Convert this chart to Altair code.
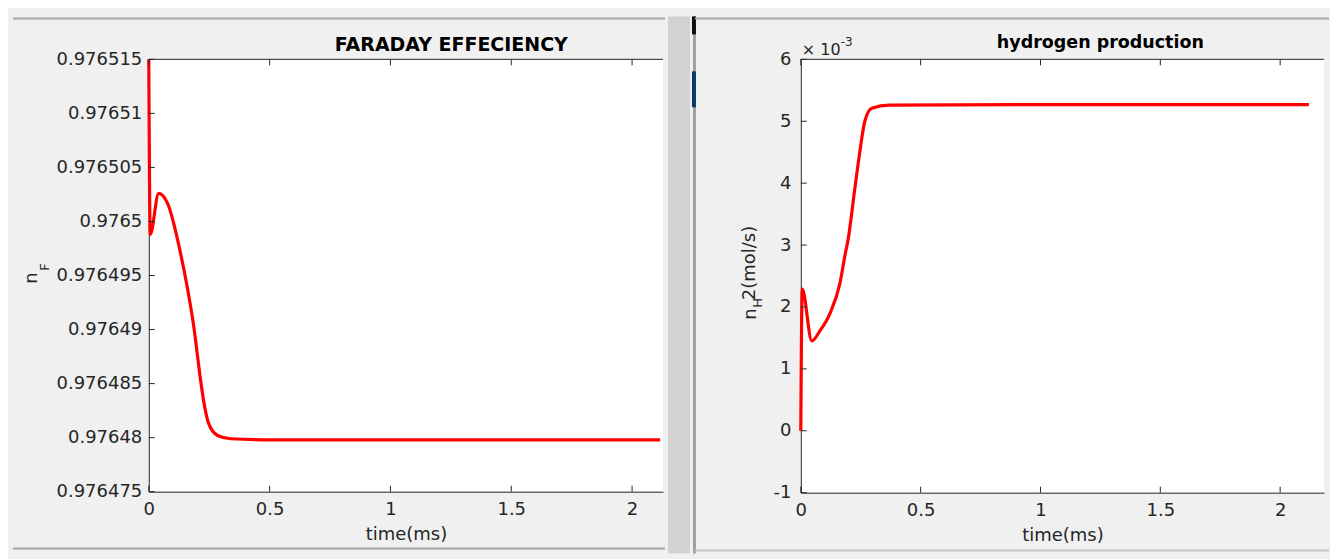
import altair as alt
import pandas as pd

# ---------------- data ----------------
fe_time = [0, 0.006, 0.041, 0.079, 0.132, 0.161, 0.186, 0.215, 0.227, 0.248,
           0.285, 0.339, 0.5, 1.0, 1.5, 2.116]
fe_value = [0.976515, 0.9764988, 0.9765026, 0.9765016, 0.9764970, 0.9764937,
            0.9764903, 0.9764852, 0.9764834, 0.9764813, 0.9764802, 0.9764799,
            0.9764798, 0.9764798, 0.9764798, 0.9764798]

h2_time = [0, 0.006, 0.046, 0.079, 0.121, 0.1625, 0.1875, 0.196, 0.225, 0.246,
           0.267, 0.296, 0.37, 1.0, 1.5, 2.12]
h2_value = [0, 2.29, 1.45, 1.61, 1.89, 2.37, 2.9, 3.06, 3.9, 4.5,
            5.0, 5.21, 5.26, 5.27, 5.27, 5.27]

x_ticks = [0, 0.5, 1, 1.5, 2]
fe_ticks = [0.976475, 0.97648, 0.976485, 0.97649, 0.976495, 0.9765,
            0.976505, 0.97651, 0.976515]
h2_ticks = [-1, 0, 1, 2, 3, 4, 5, 6]

fe_title = "FARADAY EFFECIENCY"
h2_title = "hydrogen production"
x_title = "time(ms)"

FONT = "DejaVu Sans"
AX = "#262626"
RED = "#ff0000"


def one(text):
    return alt.Chart(pd.DataFrame({"s": [text]}))


def txt(text, x, y, size, angle=0, align="center", baseline="middle",
        weight="normal", color=AX):
    kw = dict(align=align, baseline=baseline, font=FONT, fontSize=size,
              fontWeight=weight, color=color)
    if angle:
        kw["angle"] = angle
    return one(text).mark_text(**kw).encode(text="s:N", x=alt.value(x), y=alt.value(y))


def hrule(x1, x2, y, color, width):
    return one("r").mark_rule(color=color, strokeWidth=width).encode(
        x=alt.value(x1), x2=alt.value(x2), y=alt.value(y))


def box(x1, x2, y1, y2, color):
    return one("r").mark_rect(color=color).encode(
        x=alt.value(x1), x2=alt.value(x2), y=alt.value(y1), y2=alt.value(y2))


def panel(times, values, t_max, ydom, yticks, ylabel_expr, w, h, extra):
    df = pd.DataFrame({"t": times, "v": values})
    xs = alt.Scale(domain=[0, t_max], nice=False, zero=False)
    ys = alt.Scale(domain=ydom, nice=False, zero=False)

    line = alt.Chart(df).mark_line(color=RED, strokeWidth=3.2, interpolate="monotone",
                                   clip=False).encode(
        x=alt.X("t:Q", scale=xs,
                axis=alt.Axis(values=x_ticks, format="~g", title=x_title,
                              labelPadding=9, titlePadding=7)),
        y=alt.Y("v:Q", scale=ys,
                axis=alt.Axis(values=yticks, labelExpr=ylabel_expr, title=None,
                              labelPadding=7 if ydom[0] > 0 else 10)),
    )

    xt = alt.Chart(pd.DataFrame({"t": x_ticks}))
    bottom_ticks = xt.mark_rule(color=AX, strokeWidth=1).encode(
        x=alt.X("t:Q", scale=xs), y=alt.value(h), y2=alt.value(h - 6))
    top_ticks = xt.mark_rule(color=AX, strokeWidth=1).encode(
        x=alt.X("t:Q", scale=xs), y=alt.value(0), y2=alt.value(6))
    left_ticks = alt.Chart(pd.DataFrame({"v": yticks})).mark_rule(
        color=AX, strokeWidth=1).encode(
        y=alt.Y("v:Q", scale=ys), x=alt.value(0), x2=alt.value(6))
    top_border = hrule(0, w, 0, AX, 1)

    return alt.layer(extra[0], line, bottom_ticks, top_ticks, left_ticks, top_border,
                     *extra[1:]).properties(width=w, height=h)


LW, LH = 515, 433
RW, RH = 524, 434

left_extra = [
    # window chrome around the left figure
    box(520, 542, -43, 495, "#d2d2d2"),
    hrule(-136, 517, -41, "#a6a6a6", 2),
    hrule(-136, 517, 490, "#a6a6a6", 2),
    box(545, 548, -43, 495, "#a0a0a0"),
    box(544, 548, -43, -25, "#111111"),
    box(544, 548, 12, 48, "#0b3a66"),
    # title and y-axis label
    txt(fe_title, 303, -8, 19, align="center", baseline="alphabetic",
        weight="bold", color="#000000"),
    txt("n", -117, 219, 18, angle=270),
    txt("F", -104, 208, 13, angle=270),
]

right_extra = [
    hrule(-106, 529, -41, "#a6a6a6", 2),
    hrule(-106, 529, 492, "#c4c4c4", 2),
    txt(h2_title, 300, -11, 17.5, align="center", baseline="alphabetic",
        weight="bold", color="#000000"),
    txt("\u00d7 10", 1, -9, 16, align="left"),
    txt("-3", 40, -17, 12, align="left"),
    txt("n", -50, 255, 18, angle=270),
    txt("H", -43, 244, 13, angle=270),
    txt("2(mol/s)", -51, 204, 18, angle=270),
]

left = panel(fe_time, fe_value, 2.128, [0.976475, 0.976515], fe_ticks,
             "format(datum.value, '.6~f')", LW, LH, left_extra)
right = panel(h2_time, h2_value, 2.183, [-1, 6], h2_ticks,
              "'' + datum.value", RW, RH, right_extra)

chart = alt.hconcat(left, right, spacing=138, bounds="flush").properties(
    background="#f0f0f0",
    padding={"left": 4, "top": 8, "right": 0, "bottom": 5},
).configure_view(
    fill="#ffffff", stroke=None
).configure_axis(
    domainColor=AX, domainWidth=1, labelColor=AX, labelFont=FONT, labelFontSize=18,
    titleColor=AX, titleFont=FONT, titleFontSize=18, titleFontWeight="normal",
    ticks=False, tickSize=0, grid=False, labelFlush=False, labelOverlap=False,
)

chart.save("out.html", embed_options={"renderer": "svg", "actions": False})
